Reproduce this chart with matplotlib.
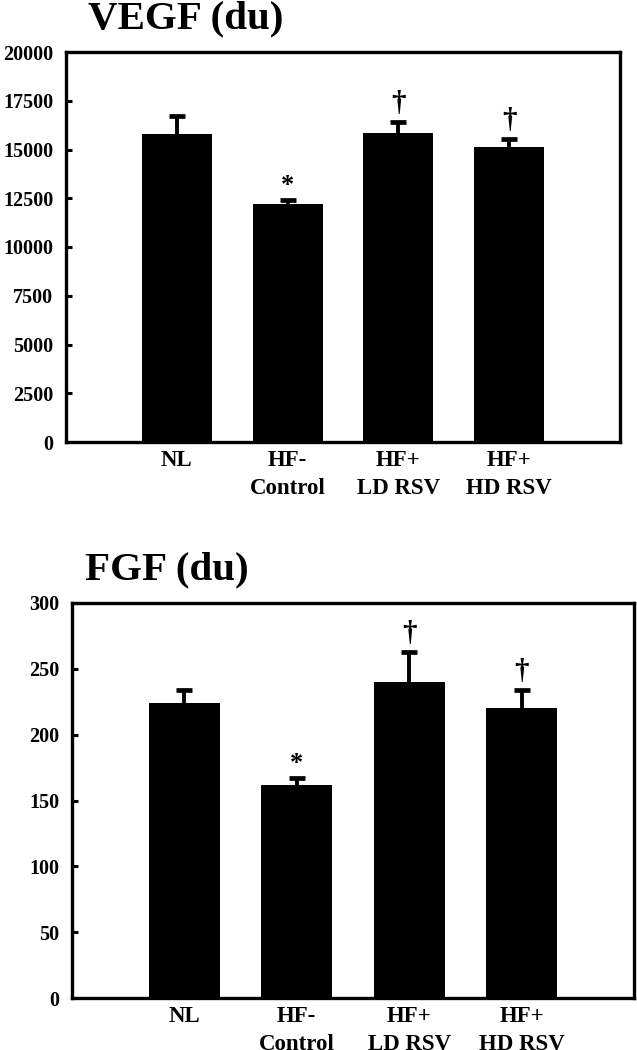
import matplotlib; matplotlib.use('Agg')
import matplotlib.pyplot as plt

plt.rcParams['font.family'] = ['Liberation Serif', 'DejaVu Serif']
plt.rcParams['font.weight'] = 'bold'

groups = ['NL', 'HF-\nControl', 'HF+\nLD RSV', 'HF+\nHD RSV']
vegf = [15800, 12230, 15850, 15130]
vegf_err = [930, 200, 570, 430]
vegf_mark = ['', '*', '\u2020', '\u2020']
vegf_ticks = list(range(0, 20001, 2500))
fgf = [224, 162, 240, 220]
fgf_err = [10, 5, 23, 14]
fgf_mark = ['', '*', '\u2020', '\u2020']
fgf_ticks = list(range(0, 301, 50))

W, H = 637, 1050
fig = plt.figure(figsize=(W/100, H/100), dpi=100)

def panel(box, vals, errs, marks, ticks, title, tpos, mark_off):
    x0, y0, x1, y1 = box
    ax = fig.add_axes([x0/W, 1-y1/H, (x1-x0)/W, (y1-y0)/H])
    xs = list(range(len(vals)))
    tops = [v+e for v, e in zip(vals, errs)]
    ax.bar(xs, vals, width=0.63, color='black', zorder=2)
    # only the upper half of each error bar
    ax.vlines(xs, vals, tops, color='black', lw=2.8, zorder=3)
    ax.plot(xs, tops, ls='none', marker='_', ms=11, mew=3.4, color='black', zorder=3)
    for x, t, m in zip(xs, tops, marks):
        if m == '*':
            ax.text(x, t+mark_off*0.6, m, ha='center', va='bottom', fontsize=19, fontweight='bold')
        elif m:
            ax.text(x, t+mark_off, m, ha='center', va='bottom', fontsize=21, fontweight='bold')
    ax.set_xlim(-1, 4)
    ax.set_ylim(ticks[0], ticks[-1])
    ax.set_yticks(ticks)
    ax.set_xticks(xs)
    ax.set_xticklabels(groups, fontsize=16.5, fontweight='bold', linespacing=1.4)
    for lab in ax.get_yticklabels():
        lab.set_fontsize(14.5); lab.set_fontweight('bold')
    ax.tick_params(axis='y', direction='in', length=4, width=2.2, pad=9)
    ax.tick_params(axis='x', length=0, pad=6)
    for s in ax.spines.values():
        s.set_linewidth(2.4)
    fig.text(tpos[0]/W, 1-tpos[1]/H, title, fontsize=29.5, fontweight='bold', va='baseline')
    return ax

panel((66, 52, 620, 442), vegf, vegf_err, vegf_mark, vegf_ticks, 'VEGF (du)', (88, 28), 250)
panel((72, 603, 634, 998), fgf, fgf_err, fgf_mark, fgf_ticks, 'FGF (du)', (85, 579), 3.5)

fig.savefig('out.png', dpi=100)
